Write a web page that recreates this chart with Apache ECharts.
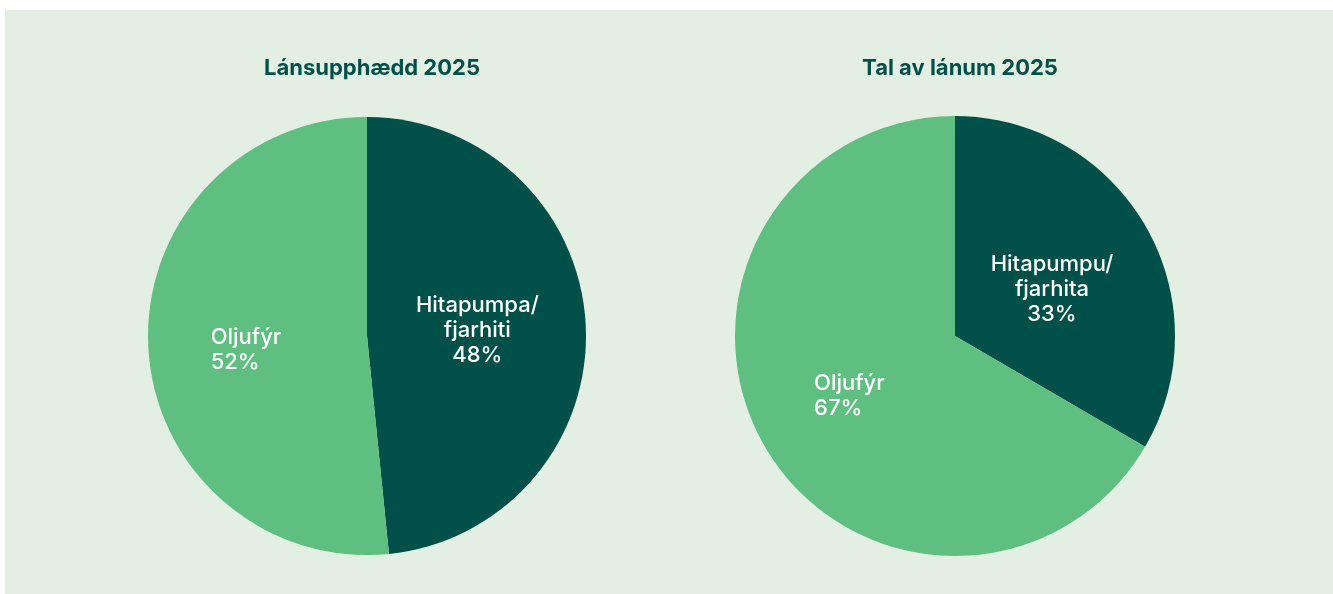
<!DOCTYPE html>
<html>
<head>
<meta charset="utf-8">
<script src="https://cdn.jsdelivr.net/npm/echarts@6/dist/echarts.min.js"></script>
<style>
  html, body { margin: 0; padding: 0; background: #ffffff; }
  #wrap { position: absolute; left: 5px; top: 10px; right: 0; bottom: 0; background: #e4efe3; }
  #chart { width: 100%; height: 100%; }
</style>
</head>
<body>
<div id="wrap"><div id="chart"></div></div>
<script>
// data
var titles = ["Lánsupphædd 2025", "Tal av lánum 2025"];
var leftNames = ["Hitapumpa/\nfjarhiti", "Oljufýr"];
var leftValues = [48.4, 51.6];
var rightNames = ["Hitapumpu/\nfjarhita", "Oljufýr"];
var rightValues = [33.4, 66.6];

var darkGreen = "#00504a";
var lightGreen = "#5ebf81";
var font = "Inter, 'Noto Sans', sans-serif";

var myChart = echarts.init(document.getElementById("chart"));

// label offsets nudge the text to where it sits in the original
function buildData(names, values, offsets) {
  return names.map(function (n, i) {
    var item = {
      name: n,
      value: values[i],
      itemStyle: { color: i === 0 ? darkGreen : lightGreen },
      label: { offset: offsets[i] }
    };
    if (i === 1) {
      // left aligned lines
      item.label.formatter = function (p) {
        return "{l|" + p.name + "}\n{l|" + Math.round(p.value) + "%}";
      };
    }
    return item;
  });
}

var labelStyle = {
  show: true,
  position: "inside",
  color: "#ffffff",
  fontFamily: font,
  fontSize: 22,
  fontWeight: 500,
  lineHeight: 25,
  formatter: function (p) {
    return p.name + "\n" + Math.round(p.value) + "%";
  },
  rich: {
    l: {
      width: 76,
      align: "left",
      color: "#ffffff",
      fontFamily: font,
      fontSize: 22,
      fontWeight: 500,
      lineHeight: 25
    }
  }
};

var titleStyle = { color: darkGreen, fontFamily: font, fontSize: 22, fontWeight: "bold" };

var option = {
  animation: false,
  title: [
    { text: titles[0], left: 362, top: 42, textAlign: "center", textStyle: titleStyle },
    { text: titles[1], left: 950, top: 42, textAlign: "center", textStyle: titleStyle }
  ],
  series: [
    {
      type: "pie",
      center: [362, 326],
      radius: [0, 219],
      startAngle: 90,
      clockwise: true,
      label: labelStyle,
      labelLine: { show: false },
      emphasis: { disabled: true },
      data: buildData(leftNames, leftValues, [[-2, 0], [-6, 8]])
    },
    {
      type: "pie",
      center: [950, 326],
      radius: [0, 220],
      startAngle: 90,
      clockwise: true,
      label: labelStyle,
      labelLine: { show: false },
      emphasis: { disabled: true },
      data: buildData(rightNames, rightValues, [[-1, 10], [-5, 4]])
    }
  ]
};

myChart.setOption(option);
</script>
</body>
</html>
